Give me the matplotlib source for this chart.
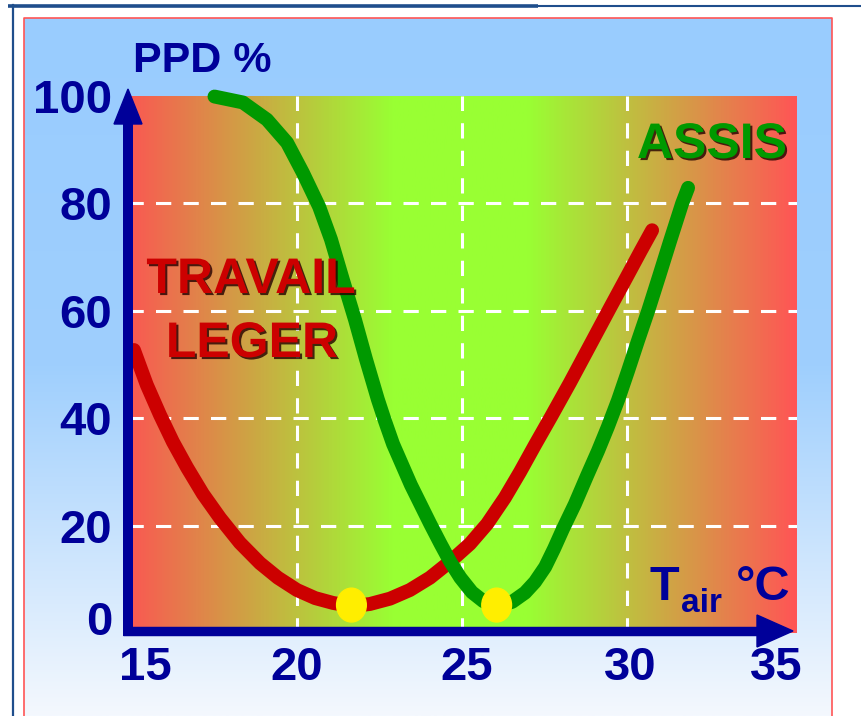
import numpy as np
import matplotlib.pyplot as plt
import matplotlib.patheffects as pe
from matplotlib.colors import LinearSegmentedColormap
from matplotlib.patches import Ellipse, Polygon
from matplotlib.transforms import ScaledTranslation

plt.rcParams['font.family'] = ['Liberation Sans', 'DejaVu Sans']

# PPD (%) against air temperature
t_leger = [15.06, 15.45, 15.85, 16.24, 16.67, 17.15, 17.67, 18.27, 18.88, 19.42, 20.0,
           20.55, 21.09, 21.64, 22.21, 22.82, 23.42, 24.03, 24.64, 25.24, 25.76, 26.3,
           26.76, 27.21, 27.7, 28.27, 28.88, 29.48, 30.0, 30.42, 30.76]
ppd_leger = [52.7, 46.2, 40.6, 35.6, 30.8, 25.9, 21.4, 16.8, 13.0, 10.3, 8.0,
             6.5, 5.6, 5.0, 5.4, 6.4, 8.0, 10.3, 13.3, 16.6, 20.3, 25.2,
             30.0, 35.0, 40.3, 46.6, 53.6, 60.5, 66.4, 71.2, 75.0]

t_assis = [17.5, 18.36, 19.09, 19.7, 20.18, 20.67, 21.03, 21.39, 21.76, 22.09, 22.45,
           22.67, 22.91, 23.45, 24.03, 24.35, 24.64, 24.95, 25.3, 25.65, 26.06, 26.52,
           26.91, 27.21, 27.52, 27.79, 28.06, 28.42, 28.79, 29.12, 29.42, 29.73, 30.03,
           30.33, 30.64, 30.97, 31.3, 31.67, 31.85]
ppd_assis = [99.9, 98.8, 95.6, 91.3, 85.7, 79.4, 73.3, 65.8, 58.3, 51.0, 43.5,
             39.4, 35.2, 27.6, 20.4, 16.6, 13.3, 10.3, 7.6, 5.9, 5.0, 5.8,
             7.5, 9.5, 12.3, 15.7, 19.4, 24.0, 29.3, 33.9, 38.4, 43.4, 48.8,
             54.4, 60.0, 66.4, 72.9, 80.0, 82.9]

# comfort optimum of each curve (yellow dots)
t_optimum = [21.65, 26.05]
ppd_optimum = [5.2, 5.2]

x_ticks = [15, 20, 25, 30, 35]
y_ticks = [0, 20, 40, 60, 80, 100]
grid_x = [20, 25, 30]
grid_y = [20, 40, 60, 80]

navy = '#000099'
red = '#cc0000'
green = '#009900'

fig = plt.figure(figsize=(8.61, 7.16), dpi=100, facecolor='white')

# frame and light blue backdrop, in pixel units
bg = fig.add_axes([0, 0, 1, 1], zorder=0)
sky = LinearSegmentedColormap.from_list('sky', ['#99ccff', '#9fcffd', '#f4f8fe'])
bg.imshow(np.linspace(0, 1, 256).reshape(-1, 1), cmap=sky, aspect='auto',
          extent=[24, 832, 716, 18])
bg.plot([24, 24, 832, 832], [716, 18, 18, 716], color='#ff5555', lw=1.2)
bg.plot([8, 538], [5.5, 5.5], color='#1f4e8c', lw=2.6, solid_capstyle='butt')
bg.plot([538, 861], [6, 6], color='#1f4e8c', lw=1.5)
bg.plot([13, 13], [5, 716], color='#1f4e8c', lw=1.6)
bg.set_xlim(0, 861)
bg.set_ylim(716, 0)
bg.axis('off')

# plot area
ax = fig.add_axes([128 / 861, (716 - 633) / 716, (797 - 128) / 861, (633 - 96) / 716], zorder=2)
x0, x1 = 14.88, 35.15
f = lambda t: (t - x0) / (x1 - x0)
heat = LinearSegmentedColormap.from_list(
    'heat', [(0, '#fa5852'), (f(22.9), '#99ff33'), (f(27.0), '#99ff33'), (1, '#ff5555')])
ax.imshow(np.linspace(0, 1, 512).reshape(1, -1), cmap=heat, aspect='auto',
          extent=[x0, x1, 0, 100], zorder=0)
for gx in grid_x:
    ax.axvline(gx, color='white', lw=2.2, ls=(0, (5, 4)), zorder=1)
for gy in grid_y:
    ax.axhline(gy, color='white', lw=2.2, ls=(0, (5, 4)), zorder=1)

ax.plot(t_leger, ppd_leger, color=red, lw=10, solid_capstyle='round',
        solid_joinstyle='round', zorder=3, clip_on=False)
ax.plot(t_assis, ppd_assis, color=green, lw=10, solid_capstyle='round',
        solid_joinstyle='round', zorder=3, clip_on=False)
for t, p in zip(t_optimum, ppd_optimum):
    ax.add_patch(Ellipse((t, p), width=0.9, height=6.3, color='#ffee00', zorder=4))

ax.set_xlim(x0, x1)
ax.set_ylim(0, 100)
for s in ax.spines.values():
    s.set_visible(False)
ax.set_xticks(x_ticks)
ax.set_xticklabels([str(v) for v in x_ticks])
ax.set_yticks(y_ticks)
ax.set_yticklabels([str(v) for v in y_ticks])
ax.tick_params(length=0, labelsize=34, labelcolor=navy)
ax.tick_params(axis='x', pad=9)
ax.tick_params(axis='y', pad=11.5)
for lab in ax.get_xticklabels() + ax.get_yticklabels():
    lab.set_fontweight('bold')

# nudge a few labels the way the original has them
x_shift = [13, 0, 5, 3, -16]
for lab, dx in zip(ax.get_xticklabels(), x_shift):
    lab.set_transform(lab.get_transform() + ScaledTranslation(dx / 100, 0, fig.dpi_scale_trans))
ylab0 = ax.get_yticklabels()[0]
ylab0.set_transform(ylab0.get_transform() + ScaledTranslation(0, 15 / 100, fig.dpi_scale_trans))

# axis arrows and captions, in pixel units
ov = fig.add_axes([0, 0, 1, 1], zorder=3)
ov.patch.set_alpha(0)
ov.plot([128, 128], [636, 120], color=navy, lw=7.2, solid_capstyle='butt')
ov.add_patch(Polygon([[114, 124], [142, 124], [128, 89]], color=navy))
ov.plot([123, 760], [631, 631], color=navy, lw=6.8, solid_capstyle='butt')
ov.add_patch(Polygon([[757, 615], [757, 647], [793, 631]], color=navy))

ov.text(133, 72, 'PPD %', fontsize=31, fontweight='bold', color=navy, va='baseline')
ov.text(650, 600, 'T', fontsize=35, fontweight='bold', color=navy, va='baseline')
ov.text(681, 612, 'air', fontsize=24, fontweight='bold', color=navy, va='baseline')
ov.text(736, 600, '°C', fontsize=35, fontweight='bold', color=navy, va='baseline')

shadow = [pe.SimplePatchShadow(offset=(1.5, -1.5), shadow_rgbFace='#220000', alpha=0.8), pe.Normal()]
ov.text(251, 293, 'TRAVAIL', fontsize=36, fontweight='bold', color=red, ha='center',
        va='baseline', path_effects=shadow)
ov.text(252, 357, 'LEGER', fontsize=36, fontweight='bold', color=red, ha='center',
        va='baseline', path_effects=shadow)
ov.text(712, 158, 'ASSIS', fontsize=36, fontweight='bold', color=green, ha='center',
        va='baseline', path_effects=shadow)
ov.set_xlim(0, 861)
ov.set_ylim(716, 0)
ov.axis('off')

fig.savefig('out.png', dpi=100, facecolor='white')
